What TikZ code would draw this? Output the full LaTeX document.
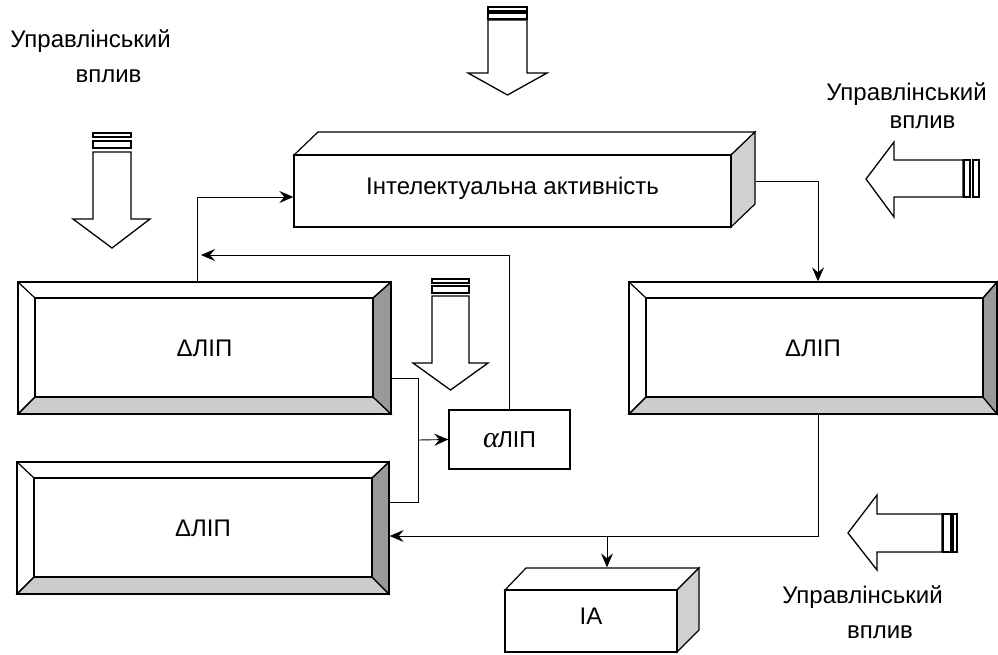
\documentclass[tikz,border=0pt]{standalone}
\usepackage{fontspec}
\setmainfont{Liberation Sans}
\newfontfamily\serifit{Liberation Serif}
\usetikzlibrary{arrows.meta}
\definecolor{bevlight}{HTML}{CCCCCC}
\definecolor{bevdark}{HTML}{999999}
\definecolor{sidegray}{HTML}{D0D0D0}
\tikzset{
  facestyle/.style={draw=black, line width=1.2pt, line join=miter},
  bevnode/.style={draw=black, line width=1.3pt, inner sep=0pt, font=\fontsize{24}{28}\selectfont},
  frontnode/.style={draw=black, line width=1.3pt, inner sep=0pt, fill=white, font=\fontsize{24}{28}\selectfont},
  plainnode/.style={draw=black, line width=1.3pt, inner sep=0pt, fill=white, font=\fontsize{23}{26}\selectfont},
  lbl/.style={inner sep=0pt, font=\fontsize{24}{28}\selectfont},
  wire/.style={draw=black, line width=0.9pt},
  conn/.style={wire, -{Stealth[length=14pt,width=12pt,inset=5pt]}},
  bigarrow/.style={draw=black, line width=1.3pt, fill=white, line join=miter},
}
\def\bevelfaces(#1,#2,#3,#4)(#5,#6,#7,#8){%
  \filldraw[facestyle, fill=white] (#1,#2) rectangle (#3,#4);
  \filldraw[facestyle, fill=bevlight] (#1,#4) -- (#3,#4) -- (#7,#8) -- (#5,#8) -- cycle;
  \filldraw[facestyle, fill=bevdark] (#3,#2) -- (#3,#4) -- (#7,#8) -- (#7,#6) -- cycle;
  \draw[facestyle] (#1,#2) -- (#5,#6) (#1,#4) -- (#5,#8) (#3,#2) -- (#7,#6);
  \draw[facestyle] (#5,#6) rectangle (#7,#8);
}
\begin{document}
\begin{tikzpicture}[x=1pt,y=-1pt]
\useasboundingbox (0,0) rectangle (998,654);

% ---- labels
\node[lbl, anchor=base] (l1a) at (90.5,47) {Управлінський};
\node[lbl, anchor=base] (l1b) at (108.5,82) {вплив};
\node[lbl, anchor=base] (l2a) at (906.5,100) {Управлінський};
\node[lbl, anchor=base] (l2b) at (922.5,128) {вплив};
\node[lbl, anchor=base] (l3a) at (862.5,603) {Управлінський};
\node[lbl, anchor=base] (l3b) at (880,638) {вплив};

% ---- big control arrows
\draw[bigarrow] (488,20) -- (488,73) -- (468,73) -- (507.5,95) -- (547,73) -- (527,73) -- (527,20) -- cycle;
\draw[bigarrow] (488,7) rectangle (527,11);
\draw[bigarrow] (488,13) rectangle (527,19);

\draw[bigarrow] (93,152) -- (93,219) -- (73,219) -- (112,248) -- (150,219) -- (131,219) -- (131,152) -- cycle;
\draw[bigarrow] (93,133) rectangle (131,137);
\draw[bigarrow] (93,141) rectangle (131,148);

\draw[bigarrow] (432,296) -- (432,363) -- (413,363) -- (450.5,390) -- (488,363) -- (469,363) -- (469,296) -- cycle;
\draw[bigarrow] (432,279) rectangle (469,283);
\draw[bigarrow] (432,286) rectangle (469,293);

\draw[bigarrow] (963,160) -- (894,160) -- (894,142) -- (866,179) -- (894,217) -- (894,197) -- (963,197) -- cycle;
\draw[bigarrow] (964,160) rectangle (970,197);
\draw[bigarrow] (973,160) rectangle (979,197);

\draw[bigarrow] (942,514) -- (877,514) -- (877,495) -- (848,533) -- (877,570) -- (877,552) -- (942,552) -- cycle;
\draw[bigarrow] (943,514) rectangle (951,552);
\draw[bigarrow] (953,514) rectangle (957,552);

% ---- 3D box: intellectual activity
\filldraw[facestyle, fill=white] (294,155) -- (318,132) -- (755,132) -- (731,155) -- cycle;
\filldraw[facestyle, fill=sidegray] (731,155) -- (755,132) -- (755,204) -- (731,227) -- cycle;
\node[frontnode, minimum width=437pt, minimum height=72pt] (int) at (512.5,191) {\raisebox{11pt}{Інтелектуальна активність}};

% ---- 3D box: IA
\filldraw[facestyle, fill=white] (505,590) -- (526,568) -- (699,568) -- (677,590) -- cycle;
\filldraw[facestyle, fill=sidegray] (677,590) -- (699,568) -- (699,630) -- (677,652) -- cycle;
\node[frontnode, minimum width=172pt, minimum height=62pt] (ia) at (591,621) {\raisebox{9pt}{ІА}};

% ---- bevel boxes
\bevelfaces(18,282,391,414)(35,298,373,397)
\node[bevnode, minimum width=373pt, minimum height=132pt] (dl1) at (204.5,348) {ΔЛІП};
\bevelfaces(17,462,389,594)(34,478,372,577)
\node[bevnode, minimum width=372pt, minimum height=132pt] (dl2) at (203,528) {ΔЛІП};
\bevelfaces(629,282,997,414)(646,298,983,397)
\node[bevnode, minimum width=368pt, minimum height=132pt] (dl3) at (813,348) {ΔЛІП};

% ---- alpha box
\node[plainnode, minimum width=121pt, minimum height=59pt] (al) at (509.5,439.5) {{\serifit\itshape\fontsize{30}{30}\selectfont α}\kern-1pt ЛІП};

% ---- connectors
\coordinate (t2) at (201,255);
\coordinate (j1) at (418,440);
\coordinate (j2) at (607,536);
\draw[conn] ([xshift=-7.5pt]dl1.north) |- ([yshift=-6pt]int.west);
\draw[conn] (al.north) |- (t2);
\draw[conn] ([xshift=24pt,yshift=10pt]int.east) -| ([xshift=5pt]dl3.north);
\draw[wire] ([yshift=-30pt]dl1.east) -| (j1);
\draw[wire] ([yshift=26pt]dl2.east) -| (j1);
\draw[conn] (j1) -- (al.west);
\draw[conn] ([xshift=5pt]dl3.south) |- ([yshift=-8pt]dl2.east);
\draw[conn] (j2) -- ([yshift=22pt]ia.north -| j2);
\end{tikzpicture}
\end{document}
